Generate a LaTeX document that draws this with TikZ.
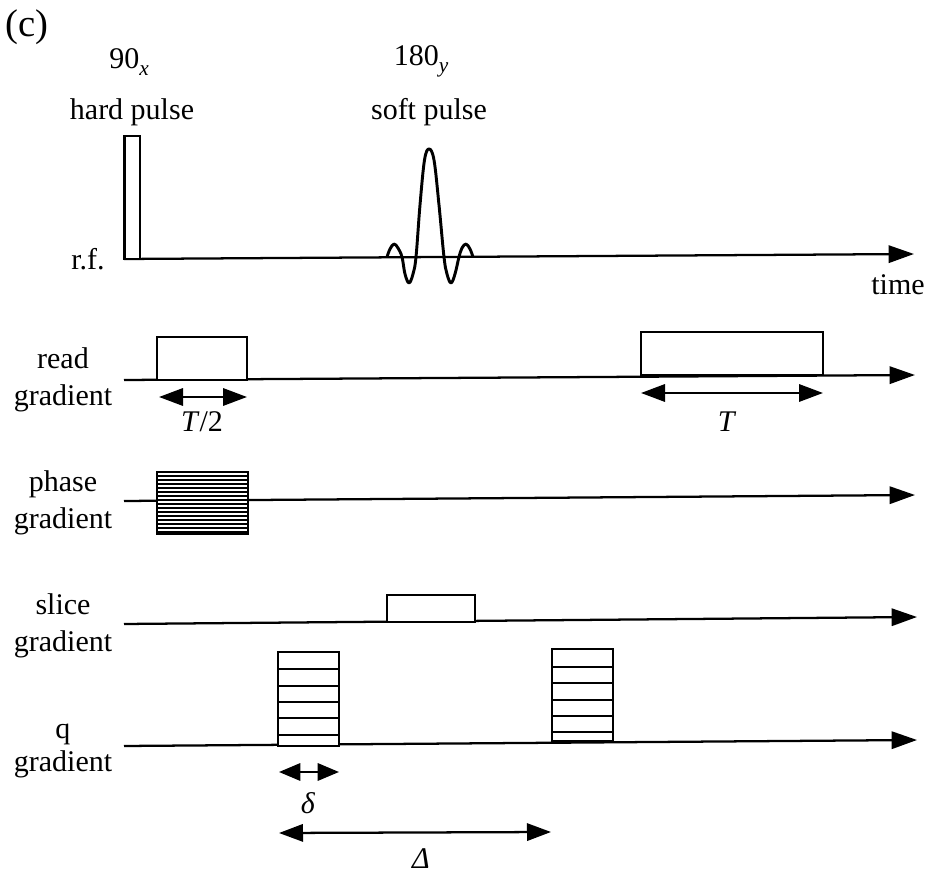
\documentclass[tikz,border=0pt]{standalone}
\usepackage{fontspec}
\setmainfont{Liberation Serif}
\usetikzlibrary{arrows.meta, positioning}

\newcommand{\lowsub}[1]{\raisebox{-5pt}{\fontsize{16}{16}\selectfont\textit{#1}}}

\tikzset{
  lbl/.style={inner sep=0pt, font=\fontsize{22.5}{27.5}\selectfont, align=center},
  axis/.style={line width=1.7pt, -{Triangle[length=19pt,width=13pt]}},
  span/.style={line width=1.7pt, {Triangle[length=18pt,width=13pt]}-{Triangle[length=18pt,width=13pt]}},
  pulse/.style={line width=1.7pt, fill=white},
  stripe/.style={line width=1.3pt}
}

\begin{document}
\begin{tikzpicture}[x=0.75pt, y=-0.75pt]
  \useasboundingbox (0,0) rectangle (926,873);
  % Axes
  \coordinate (rfA) at (124,259);    \coordinate (rfB) at (914,254);
  \coordinate (readA) at (124,380);  \coordinate (readB) at (915,375);
  \coordinate (phaseA) at (124,501); \coordinate (phaseB) at (915,495);
  \coordinate (sliceA) at (124,624); \coordinate (sliceB) at (917,617);
  \coordinate (qA) at (124,746);     \coordinate (qB) at (917,740);
  \foreach \ax in {rf, read, phase, slice, q}
    \draw[axis] (\ax A) -- (\ax B);
  % r.f. pulses
  \draw[pulse] (124.5,259) rectangle (140,136);
  \draw[line width=2.2pt, line join=round] plot[smooth, tension=0.6] coordinates {(387,257) (390,249) (394,244) (398,248) (402,257) (405,274) (409,283) (413,274) (416,257)
    (420,205) (424.5,160) (429,149) (434,160) (439,205) (444,257) (447,274) (451,283) (455,274) (459,257) (462,248) (466,244) (470,249) (473,257)};
  % Read gradient
  \draw[pulse] (157,380) rectangle (247,337);
  \draw[pulse] (641,375) rectangle (823,332);
  \coordinate (halfA) at (159,397); \coordinate (halfB) at (247,397);
  \coordinate (fullA) at (641,393); \coordinate (fullB) at (823,393);
  \draw[span] (halfA) -- (halfB);
  \draw[span] (fullA) -- (fullB);
  % Phase gradient
  \draw[line width=2.2pt, fill=white] (157,534) rectangle (248,472);
  \foreach \yy in {476,480,...,532}
    \draw[line width=1.7pt] (157,\yy) -- (248,\yy);
  % Slice gradient
  \draw[pulse] (387,622) rectangle (475,595);
  % q gradient
  \draw[pulse] (278,746) rectangle (339,652);
  \draw[pulse] (552,741) rectangle (613,649);
  \foreach \yy in {669,686,702,718,735}
    \draw[stripe] (278,\yy) -- (339,\yy);
  \foreach \yy in {667,683,700,716,732}
    \draw[stripe] (552,\yy) -- (613,\yy);
  \coordinate (smallA) at (279,772); \coordinate (smallB) at (339,772);
  \coordinate (bigA) at (279,833);   \coordinate (bigB) at (551,832);
  \draw[span, {Triangle[length=16pt,width=13pt]}-{Triangle[length=16pt,width=13pt]}] (smallA) -- (smallB);
  \draw[span] (bigA) -- (bigB);
  % Labels
  \node[lbl, font=\fontsize{29}{32}\selectfont] (panel) at (27,27) {(c)};
  \node[lbl] (hardang) at (129,62) {90\lowsub{x}};
  \node[lbl] (hard) at (132,112) {hard pulse};
  \node[lbl] (softang) at (421,61) {180\lowsub{y}};
  \node[lbl] (soft) at (429,112) {soft pulse};
  \node[lbl] (rf) at (88,259) {r.f.};
  \node[lbl] (time) at (898,285) {time};
  \node[lbl] (read) at (63,380) {read\\gradient};
  \node[lbl] (phase) at (63,503) {phase\\gradient};
  \node[lbl] (slice) at (63,626) {slice\\gradient};
  \node[lbl] (q) at (63,751) {q\\[-2.5pt]gradient};
  \node[lbl] (half) at (202,422) {\textit{T}/2};
  \node[lbl] (full) at (727,422) {\textit{T}};
  \node[lbl] (small) at (308,803) {\textit{δ}};
  \node[lbl] (big) at (421,859) {\textit{Δ}};
\end{tikzpicture}
\end{document}
